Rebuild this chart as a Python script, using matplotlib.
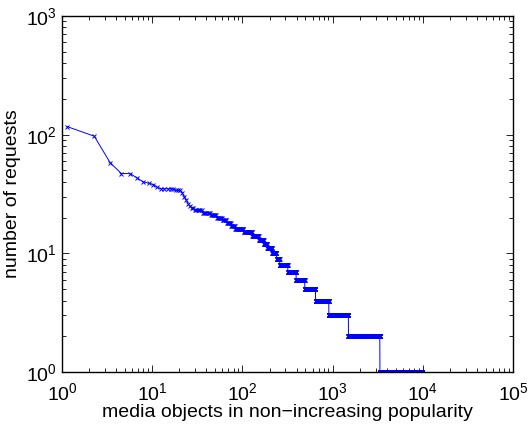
import numpy as np
import matplotlib
matplotlib.use("Agg")
import matplotlib.pyplot as plt

# number of requests per object, and how many objects share that count
# (objects sorted by non-increasing popularity)
request_counts = [117, 97, 58, 47, 43, 40, 39, 38, 36, 35, 34, 32, 30, 28, 26, 25,
                  24, 23, 22, 21, 20, 19, 18, 17, 16, 15, 14, 13, 12, 11, 10, 9,
                  8, 7, 6, 5, 4, 3, 2, 1]
objects_per_count = [1, 1, 1, 2, 1, 1, 1, 1, 1, 5, 3, 1, 1, 1, 1, 1,
                     2, 6, 7, 7, 7, 6, 7, 7, 18, 22, 21, 18, 14, 22, 22, 18,
                     52, 66, 85, 136, 229, 517, 1615, 5713]
x_scale = 1.14  # rank axis as drawn in the original figure

requests = np.repeat(request_counts, objects_per_count)
rank = np.arange(1, len(requests) + 1) * x_scale

plt.rcParams['font.family'] = ['Liberation Sans', 'DejaVu Sans']
plt.rcParams['mathtext.fontset'] = 'custom'
plt.rcParams['mathtext.rm'] = 'Liberation Sans'
plt.rcParams['mathtext.default'] = 'regular'

fig = plt.figure(figsize=(5.28, 4.25), dpi=100)
ax = fig.add_axes([0.1174, 0.1247, 0.8542, 0.8377])
ax.plot(rank, requests, '-x', color='#0000ff', linewidth=0.7,
        markersize=3.5, markeredgewidth=0.7)
ax.set_xscale('log')
ax.set_yscale('log')
ax.set_xlim(1, 1e5)
ax.set_ylim(1, 1e3)
ax.tick_params(which='both', direction='in', top=True, right=True,
               labelsize=14, width=0.6)
ax.tick_params(which='major', length=5)
ax.tick_params(axis='x', which='major', pad=7)
ax.tick_params(axis='y', which='major', pad=4)
ax.tick_params(which='minor', length=3)
for s in ax.spines.values():
    s.set_linewidth(1.0)
ax.set_xlabel('media objects in non\u2212increasing popularity', fontsize=14, labelpad=0)
ax.set_ylabel('number of requests', fontsize=14, labelpad=3)
fig.savefig('out.png', dpi=100)
